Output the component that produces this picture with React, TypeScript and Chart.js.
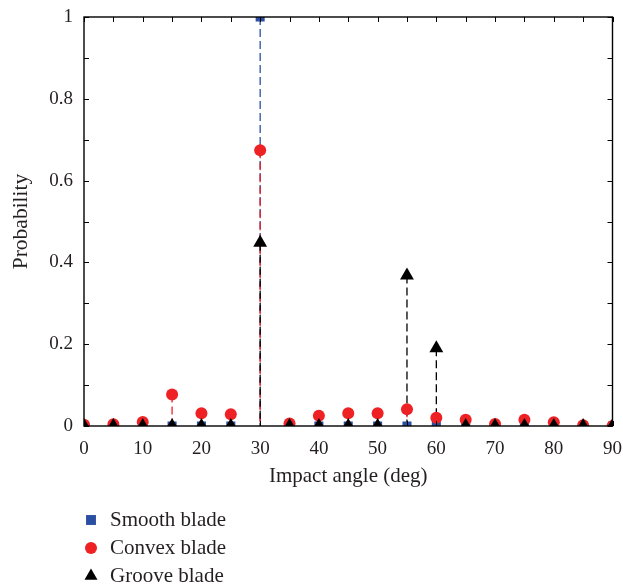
import React, { useEffect, useRef } from "react";
import { Chart, registerables } from "chart.js";

Chart.register(...registerables);

const angles = [0, 5, 10, 15, 20, 25, 30, 35, 40, 45, 50, 55, 60, 65, 70, 75, 80, 85, 90];
const smoothBlade = [0, 0, 0, 0, 0, 0, 1, 0, 0, 0, 0, 0, 0, 0, 0, 0, 0, 0, 0];
const convexBlade = [0.003, 0.004, 0.01, 0.077, 0.031, 0.029, 0.674, 0.006, 0.025, 0.031, 0.031, 0.041, 0.02, 0.015, 0.005, 0.015, 0.009, 0.002, 0];
const grooveBlade = [0, 0, 0, 0, 0, 0, 0.448, 0, 0, 0, 0, 0.368, 0.19, 0, 0, 0, 0, 0, 0];

const seriesLabels = ["Smooth blade", "Convex blade", "Groove blade"];
const seriesColors = ["#2b4ea2", "#ee2125", "#000000"];
const seriesStyles = ["rect", "circle", "triangle"];
const seriesRadii = [6.4, 6, 8];
const seriesValues = [smoothBlade, convexBlade, grooveBlade];

const xTitle = "Impact angle (deg)";
const yTitle = "Probability";
const xMinorStep = 5;
const yMinorStep = 0.1;

const FONT = "'Liberation Serif', 'Times New Roman', serif";

function drawMarker(ctx: CanvasRenderingContext2D, style: string, x: number, y: number, r: number) {
  ctx.beginPath();
  if (style === "rect") {
    const s = Math.SQRT1_2 * r;
    ctx.rect(x - s, y - s, 2 * s, 2 * s);
  } else if (style === "circle") {
    ctx.arc(x, y, r, 0, Math.PI * 2);
  } else {
    let rad = 0;
    ctx.moveTo(x + Math.sin(rad) * r, y - Math.cos(rad) * r);
    rad += (2 * Math.PI) / 3;
    ctx.lineTo(x + Math.sin(rad) * r, y - Math.cos(rad) * r);
    rad += (2 * Math.PI) / 3;
    ctx.lineTo(x + Math.sin(rad) * r, y - Math.cos(rad) * r);
    ctx.closePath();
  }
  ctx.fill();
}

const stemPlugin = {
  id: "stems",
  beforeDatasetsDraw(chart: any) {
    const { ctx, chartArea, scales } = chart;
    const x = scales.x;
    const y = scales.y;
    ctx.save();
    ctx.beginPath();
    ctx.rect(chartArea.left, chartArea.top, chartArea.right - chartArea.left, chartArea.bottom - chartArea.top);
    ctx.clip();
    ctx.lineWidth = 1.3;
    ctx.setLineDash([8, 4]);
    seriesValues.forEach((vals, si) => {
      ctx.strokeStyle = seriesColors[si];
      vals.forEach((v, i) => {
        if (v <= 0) return;
        const px = x.getPixelForValue(angles[i]);
        ctx.beginPath();
        ctx.moveTo(px, y.getPixelForValue(v));
        ctx.lineTo(px, y.getPixelForValue(0));
        ctx.stroke();
      });
    });
    ctx.restore();
  },
};

const framePlugin = {
  id: "frame",
  afterDatasetsDraw(chart: any) {
    const { ctx, chartArea, scales } = chart;
    const { left, right, top, bottom } = chartArea;
    const x = scales.x;
    const y = scales.y;
    ctx.save();
    ctx.strokeStyle = "#000";
    ctx.lineWidth = 1.4;
    ctx.setLineDash([]);
    ctx.strokeRect(left, top, right - left, bottom - top);
    ctx.lineWidth = 1;
    const len = 5;
    ctx.beginPath();
    for (let v = x.min; v <= x.max + 1e-6; v += xMinorStep) {
      const px = Math.round(x.getPixelForValue(v)) + 0.5;
      ctx.moveTo(px, bottom);
      ctx.lineTo(px, bottom - len);
      ctx.moveTo(px, top);
      ctx.lineTo(px, top + len);
    }
    for (let k = 0; k <= Math.round((y.max - y.min) / yMinorStep); k++) {
      const v = y.min + k * yMinorStep;
      const py = Math.round(y.getPixelForValue(v)) + 0.5;
      ctx.moveTo(left, py);
      ctx.lineTo(left + len, py);
      ctx.moveTo(right, py);
      ctx.lineTo(right - len, py);
    }
    ctx.stroke();
    ctx.restore();
  },
};

const legendPlugin = {
  id: "stackLegend",
  afterDraw(chart: any) {
    const { ctx } = chart;
    ctx.save();
    ctx.font = `21px ${FONT}`;
    ctx.textBaseline = "middle";
    ctx.textAlign = "left";
    const rowYs = [520, 548, 576];
    chart.data.datasets.forEach((ds: any, i: number) => {
      const cy = rowYs[i];
      ctx.fillStyle = ds.pointBackgroundColor;
      drawMarker(ctx, ds.pointStyle, 91, cy, ds.legendRadius);
      ctx.fillStyle = "#231f20";
      ctx.fillText(ds.label, 110, cy);
    });
    ctx.restore();
  },
};

function zeroPad(scale: any) {
  scale.paddingLeft = 0;
  scale.paddingRight = 0;
  scale.paddingTop = 0;
  scale.paddingBottom = 0;
}

export default function App() {
  const ref = useRef<HTMLCanvasElement | null>(null);

  useEffect(() => {
    if (!ref.current) return;
    const datasets = seriesLabels.map((label, si) => ({
      label,
      data: angles.map((a, i) => ({ x: a, y: seriesValues[si][i] })),
      pointStyle: seriesStyles[si],
      pointRadius: seriesRadii[si],
      pointHoverRadius: seriesRadii[si],
      pointBackgroundColor: seriesColors[si],
      pointBorderColor: seriesColors[si],
      pointBorderWidth: 0,
      backgroundColor: seriesColors[si],
      borderColor: seriesColors[si],
      showLine: false,
      clip: 0,
      order: 3 - si,
      legendRadius: [7, 6, 7.5][si],
    }));

    const chart = new Chart(ref.current, {
      type: "scatter",
      data: { datasets: datasets as any },
      options: {
        animation: false,
        responsive: false,
        events: [],
        layout: { padding: { top: 17, right: 10.5, left: 0, bottom: 0 } },
        plugins: {
          legend: { display: false },
          tooltip: { enabled: false },
        },
        scales: {
          x: {
            type: "linear",
            min: 0,
            max: 90,
            grid: { display: false, drawTicks: false, tickLength: 0 },
            border: { display: false },
            ticks: {
              stepSize: 10,
              padding: 11.5,
              color: "#231f20",
              font: { family: FONT, size: 19 },
              maxRotation: 0,
            },
            title: {
              display: true,
              text: xTitle,
              color: "#231f20",
              font: { family: FONT, size: 21 },
              padding: { top: 0, bottom: 99 },
            },
            afterFit(scale: any) {
              scale.height = 162;
              zeroPad(scale);
            },
          },
          y: {
            type: "linear",
            min: 0,
            max: 1,
            grid: { display: false, drawTicks: false, tickLength: 0 },
            border: { display: false },
            ticks: {
              stepSize: 0.2,
              padding: 11,
              color: "#231f20",
              font: { family: FONT, size: 19 },
              callback: (v: any) => String(Number(Number(v).toFixed(1))),
            },
            title: {
              display: true,
              text: yTitle,
              color: "#231f20",
              font: { family: FONT, size: 21.5 },
              padding: { top: 8, bottom: 0 },
            },
            afterFit(scale: any) {
              scale.width = 84;
              zeroPad(scale);
            },
          },
        },
      },
      plugins: [stemPlugin, framePlugin, legendPlugin],
    });
    return () => chart.destroy();
  }, []);

  return (
    <canvas
      ref={ref}
      width={623}
      height={588}
      style={{ position: "absolute", left: 0, top: 0, width: 623, height: 588 }}
    />
  );
}
